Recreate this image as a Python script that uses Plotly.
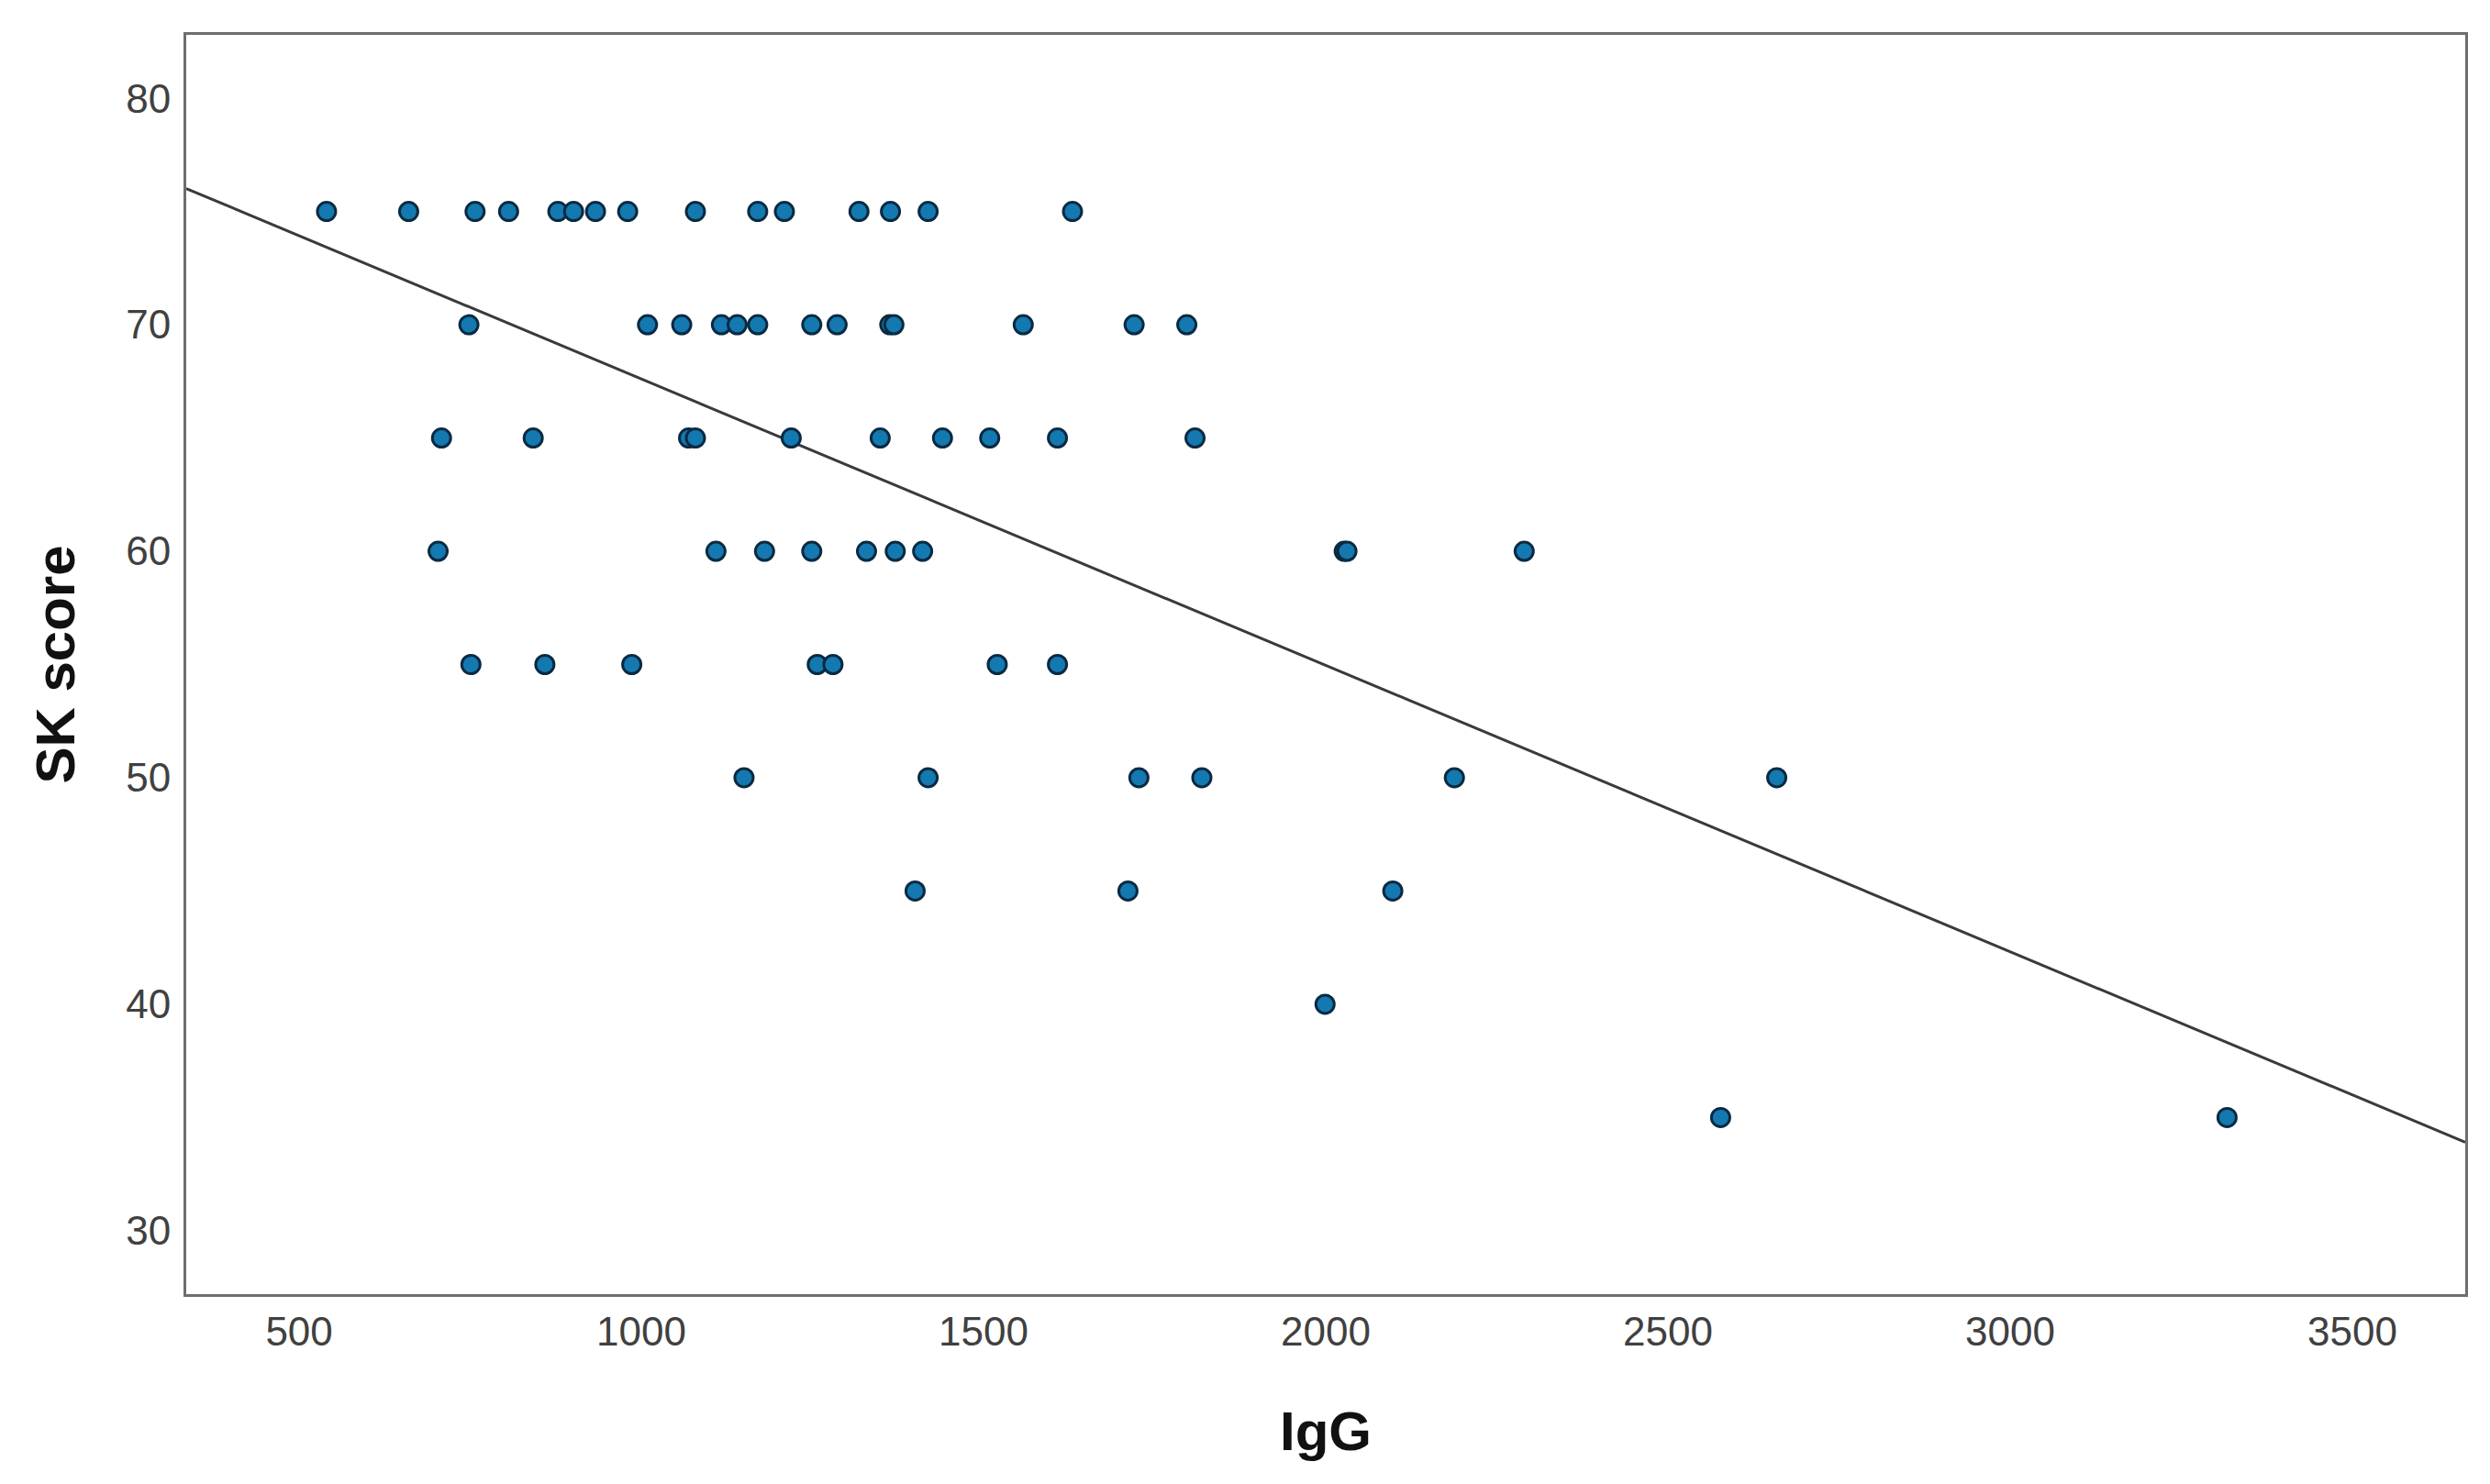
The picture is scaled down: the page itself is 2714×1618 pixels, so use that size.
import numpy as np
import plotly.graph_objects as go

# IgG values grouped by SK score row
igg_75 = [540, 660, 757, 806, 878, 901, 933, 980, 1079, 1170, 1209, 1318, 1364, 1419, 1630]
igg_70 = [748, 1009, 1059, 1117, 1140, 1170, 1249, 1286, 1363, 1369, 1558, 1720, 1797]
igg_65 = [708, 842, 1069, 1079, 1219, 1349, 1440, 1509, 1608, 1809]
igg_60 = [703, 1109, 1180, 1249, 1329, 1371, 1411, 2027, 2031, 2290]
igg_55 = [751, 859, 986, 1257, 1280, 1520, 1608]
igg_50 = [1150, 1419, 1727, 1819, 2188, 2659]
igg_45 = [1400, 1711, 2098]
igg_40 = [1999]
igg_35 = [2577, 3317]

sk_levels = [75, 70, 65, 60, 55, 50, 45, 40, 35]
igg_groups = [igg_75, igg_70, igg_65, igg_60, igg_55, igg_50, igg_45, igg_40, igg_35]

x_ticks = [500, 1000, 1500, 2000, 2500, 3000, 3500]
y_ticks = [30, 40, 50, 60, 70, 80]
x_range = [335, 3665]
y_range = [27.2, 82.8]

igg = []
sk = []
for lvl, grp in zip(sk_levels, igg_groups):
    igg.extend(grp)
    sk.extend([lvl] * len(grp))
igg = np.array(igg, dtype=float)
sk = np.array(sk, dtype=float)

slope, intercept = np.polyfit(igg, sk, 1)
fit_x = np.array(x_range, dtype=float)
fit_y = intercept + slope * fit_x

fig = go.Figure()
fig.add_trace(go.Scatter(
    x=fit_x, y=fit_y, mode="lines",
    line=dict(color="#3a3a3a", width=3),
    hoverinfo="skip", showlegend=False,
))
fig.add_trace(go.Scatter(
    x=igg, y=sk, mode="markers",
    marker=dict(size=20, color="#1479b0", line=dict(color="#0a2a42", width=3)),
    showlegend=False,
))

axis_common = dict(
    showgrid=False, zeroline=False,
    showline=True, linecolor="#6e6e6e", linewidth=3, mirror=True,
    ticks="", tickfont=dict(family="Liberation Sans, Arial, sans-serif", size=44, color="#404040"),
)

fig.update_layout(
    width=2714, height=1618,
    margin=dict(l=195, r=35, t=30, b=215),
    paper_bgcolor="white", plot_bgcolor="white",
    xaxis=dict(
        range=x_range, tickvals=x_ticks, ticklabelstandoff=0,
        title=dict(text="<b>IgG</b>", standoff=65,
                   font=dict(family="Liberation Sans, Arial, sans-serif", size=60, color="#111111")),
        **axis_common,
    ),
    yaxis=dict(
        range=y_range, tickvals=y_ticks, ticklabelstandoff=5,
        title=dict(text="<b>SK score</b>", standoff=37,
                   font=dict(family="Liberation Sans, Arial, sans-serif", size=60, color="#111111")),
        **axis_common,
    ),
)

fig.write_html("out.html")
